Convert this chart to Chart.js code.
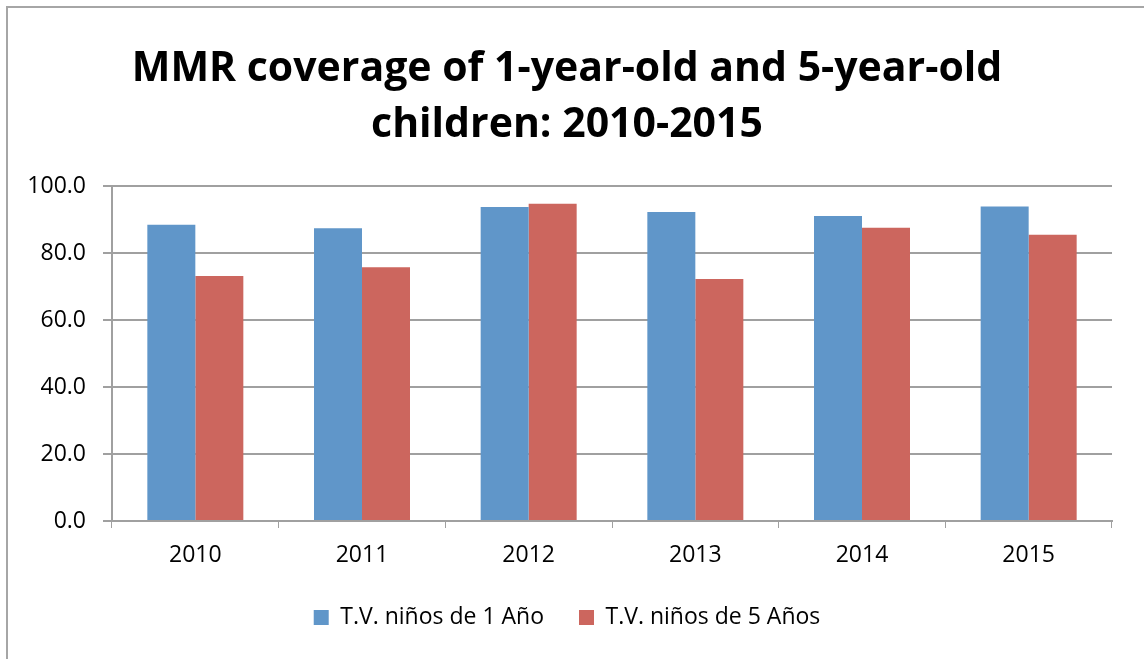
<!DOCTYPE html>
<html>
<head>
<meta charset="utf-8">
<script src="https://cdn.jsdelivr.net/npm/chart.js@4.4.1/dist/chart.umd.min.js"></script>
<style>
  html, body { margin: 0; padding: 0; background: #fff; overflow: hidden; }
  #frame {
    position: absolute; left: 6px; top: 6px; width: 1200px; height: 700px;
    border: 2px solid #a6a6a6; box-sizing: border-box;
  }
  #wrap { position: absolute; left: 0; top: 0; width: 1144px; height: 659px; }
</style>
</head>
<body>
<div id="frame"></div>
<div id="wrap"><canvas id="myChart" width="1144" height="659"></canvas></div>
<script>
const years = ['2010', '2011', '2012', '2013', '2014', '2015'];
const oneYear = [88.5, 87.5, 93.8, 92.3, 91.1, 94.0];
const fiveYear = [73.2, 75.8, 94.8, 72.3, 87.6, 85.5];
const seriesNames = ['T.V. niños de 1 Año', 'T.V. niños de 5 Años'];
const titleLines = ['MMR coverage of 1-year-old and 5-year-old', 'children: 2010-2015'];

const gridGrey = '#a0a0a0';
const font = 'Open Sans';

const ctx = document.getElementById('myChart').getContext('2d');
const myChart = new Chart(ctx, {
    type: 'bar',
    data: {
        labels: years,
        datasets: [{
            label: seriesNames[0],
            data: oneYear,
            backgroundColor: '#6096c9',
            borderWidth: 0,
        }, {
            label: seriesNames[1],
            data: fiveYear,
            backgroundColor: '#cc665e',
            borderWidth: 0,
        }]
    },
    options: {
        responsive: false,
        animation: false,
        layout: { padding: { left: 22, right: 32, top: 0, bottom: 20 } },
        datasets: {
            bar: { categoryPercentage: 0.576, barPercentage: 1.0 }
        },
        plugins: {
            title: {
                display: true,
                text: titleLines,
                color: '#000',
                font: { family: font, size: 41, weight: 'bold', lineHeight: 1.37 },
                padding: { top: 41, bottom: 33 },
            },
            legend: {
                position: 'bottom',
                labels: {
                    color: '#000',
                    font: { family: font, size: 23 },
                    boxWidth: 15,
                    boxHeight: 15,
                    padding: 35,
                },
            },
            tooltip: { enabled: false },
        },
        scales: {
            x: {
                afterFit: (scale) => { scale.height = 50; },
                grid: {
                    offset: true,
                    drawOnChartArea: false,
                    tickLength: 7,
                    color: gridGrey,
                },
                border: { color: gridGrey, width: 2 },
                ticks: {
                    color: '#000',
                    font: { family: font, size: 23 },
                    padding: 14,
                },
            },
            y: {
                min: 0,
                max: 100,
                afterFit: (scale) => { scale.width = 90; },
                grid: { color: gridGrey, tickLength: 9, lineWidth: 2 },
                border: { color: gridGrey, width: 2 },
                ticks: {
                    stepSize: 20,
                    color: '#000',
                    font: { family: font, size: 23 },
                    padding: 17,
                    callback: (v) => Number(v).toFixed(1),
                },
            },
        },
    },
});
</script>
</body>
</html>
